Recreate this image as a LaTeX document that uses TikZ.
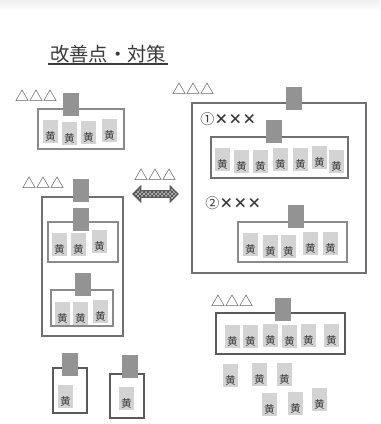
\documentclass[tikz,border=0pt]{standalone}
\usepackage{fontspec}
\setmainfont{Noto Sans CJK JP}
\usetikzlibrary{shapes.arrows,patterns}
\definecolor{boxdark}{HTML}{5A5A5A}
\definecolor{boxmid}{HTML}{707070}
\definecolor{boxlight}{HTML}{8A8A8A}
\definecolor{tabgray}{HTML}{939393}
\definecolor{cellgray}{HTML}{D3D3D3}
\definecolor{txt}{HTML}{3A3A3A}
\tikzset{
  frame/.style={draw, line width=1.5pt, inner sep=0pt, outer sep=0pt},
  tabbox/.style={fill=tabgray, inner sep=0pt, outer sep=0pt, minimum width=12pt, minimum height=17.25pt, anchor=north west},
  cellbox/.style={fill=cellgray, inner sep=0pt, outer sep=0pt, minimum width=11.25pt, minimum height=17.25pt, anchor=north west,
    label={[anchor=south, inner sep=1.2pt, text=txt, font=\fontsize{8}{8}\selectfont]south:黄}},
  tri/.style={text=txt, font=\fontsize{10.5}{10.5}\selectfont, inner sep=0pt},
  note/.style={text=txt, font=\fontsize{10.5}{10.5}\selectfont, inner sep=0pt, anchor=west},
}
\newcommand\rbox[6]{\node[frame, #2, anchor=north west, minimum width={(#5-#3)*0.75pt}, minimum height={(#6-#4)*0.75pt}] (#1) at (#3,#4) {};}
\begin{document}
\begin{tikzpicture}[x=0.75pt,y=-0.75pt]
\useasboundingbox (0,0) rectangle (380,424);
\shade[top color=gray!12, bottom color=white] (0,0) rectangle (380,11);
% title
\node[text=txt, font=\fontsize{14.5}{14.5}\selectfont, inner sep=0pt] (title) at (108,54) {改善点・対策};
\coordinate (ul1) at (48,64);
\coordinate (ul2) at (168,64);
\draw[txt, line width=0.8pt] (ul1) -- (ul2);
% boxes
\rbox{tl}{draw=boxlight}{38}{109}{124}{149}
\rbox{lo}{draw=boxmid}{42}{197}{123}{336}
\rbox{li1}{draw=boxlight}{48}{222}{118}{262}
\rbox{li2}{draw=boxlight}{51}{290}{113}{326}
\rbox{sa}{draw=boxdark}{53}{368}{87}{413}
\rbox{sb}{draw=boxdark}{110}{374}{144}{418}
\rbox{ro}{draw=boxmid}{192}{103}{366}{273}
\rbox{ri1}{draw=boxmid, line width=2pt}{211}{137}{348}{178}
\rbox{ri2}{draw=boxlight}{238}{222}{347}{262}
\rbox{br}{draw=boxdark, line width=2.2pt}{216}{313}{345}{354}
% tabs
\node[tabbox] (t1) at (63,93) {};
\node[tabbox] (t2) at (73,179) {};
\node[tabbox] (t3) at (73,208) {};
\node[tabbox] (t4) at (75,273) {};
\node[tabbox] (t5) at (62,353) {};
\node[tabbox] (t6) at (122,355) {};
\node[tabbox] (t7) at (286,87) {};
\node[tabbox] (t8) at (266,120) {};
\node[tabbox] (t9) at (288,205) {};
\node[tabbox] (t10) at (275,298) {};
% cells
\foreach \n/\x/\y in {a1/43/120,a2/62/122,a3/81/121,a4/102/119,
  b1/52/233,b2/71/233,b3/92/230,
  c1/55/302,c2/73/302,c3/93/300,
  d1/58/385,d2/119/387,
  e1/215/148,e2/234/150,e3/253/150,e4/273/148,e5/293/148,e6/312/146,e7/329/150,
  f1/243/233,f2/263/235,f3/281/235,f4/303/232,f5/323/232,
  g1/225/325,g2/243/325,g3/263/324,g4/282/325,g5/301/324,g6/324/324,
  h1/223/364,h2/252/363,h3/277/363,h4/262/393,h5/288/392,h6/312/388}
  {\node[cellbox] (\n) at (\x,\y) {};}
% triangles
\node[tri] (tr1) at (36,96) {△△△};
\node[tri] (tr2) at (43,183) {△△△};
\node[tri] (tr3) at (155,175) {△△△};
\node[tri] (tr4) at (193,89) {△△△};
\node[tri] (tr5) at (232,301) {△△△};
% notes
\node[note] (n1) at (200,119) {①\textbf{×××}};
\node[note] (n2) at (205,203) {②\textbf{×××}};
% double arrow
\node[double arrow, draw=boxdark, line width=0.9pt, pattern=crosshatch, pattern color=black!75,
  preaction={fill=gray!55},
  minimum height=33.75pt, minimum width=11.5pt, double arrow head extend=2.5pt, inner sep=1.3pt] (arr) at (155.5,194) {};
\end{tikzpicture}
\end{document}
